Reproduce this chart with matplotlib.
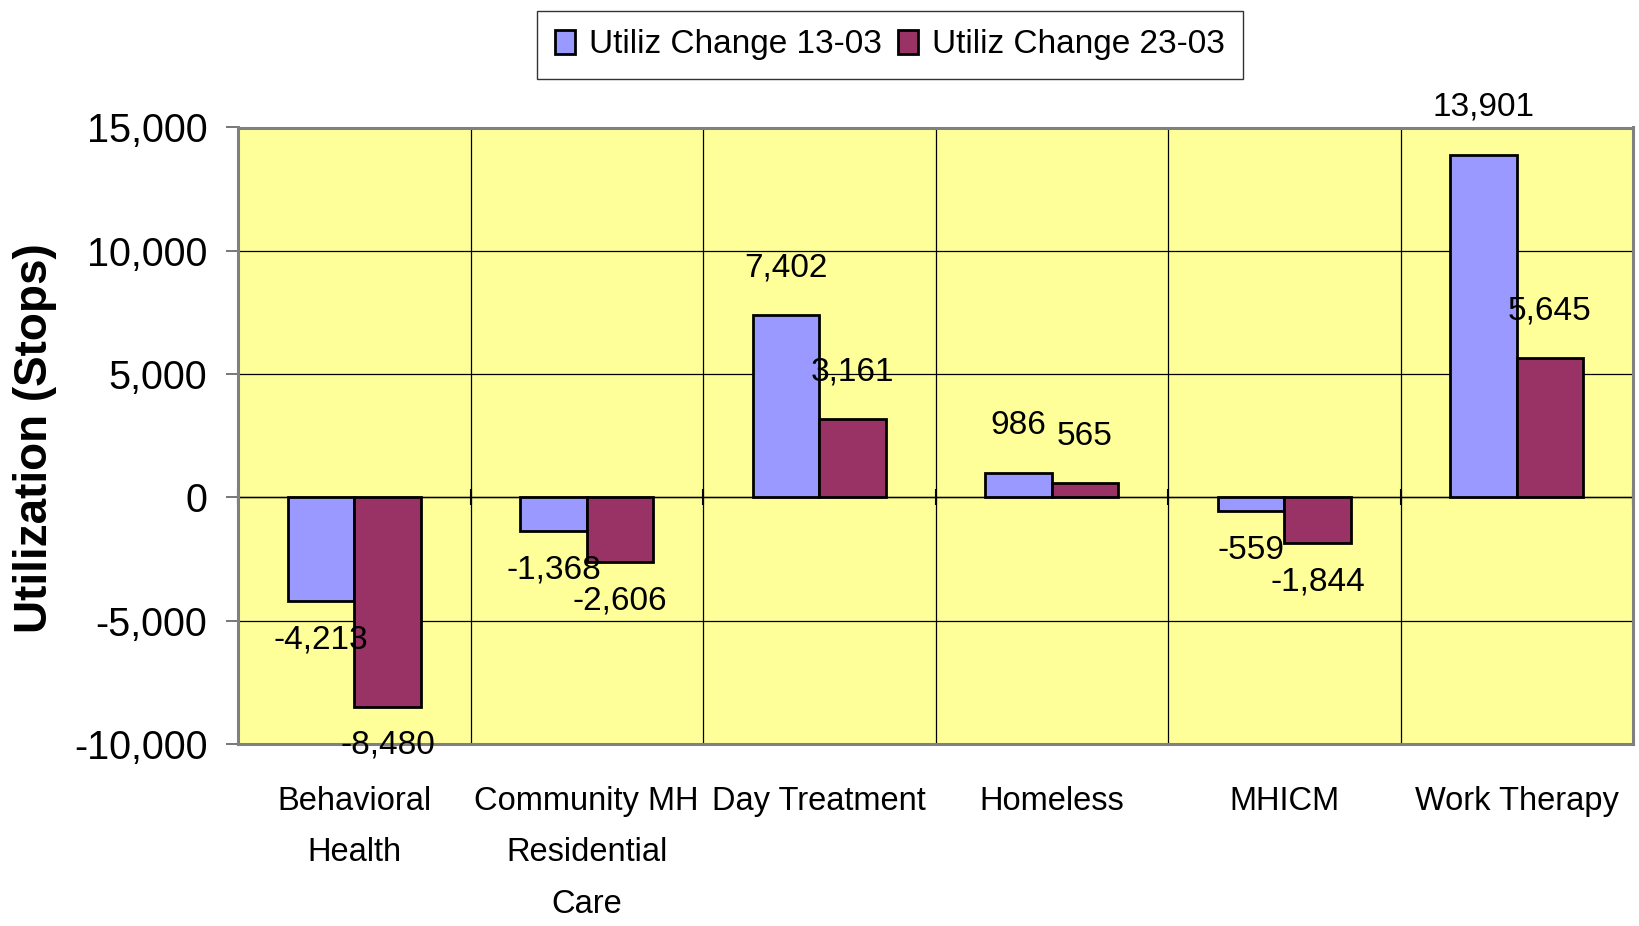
import matplotlib
matplotlib.use("Agg")
import matplotlib.pyplot as plt
import numpy as np
from matplotlib.ticker import FuncFormatter

categories = ["Behavioral\nHealth", "Community MH\nResidential\nCare", "Day Treatment",
              "Homeless", "MHICM", "Work Therapy"]
series_names = ["Utiliz Change 13-03", "Utiliz Change 23-03"]
change_13_03 = [-4213, -1368, 7402, 986, -559, 13901]
change_23_03 = [-8480, -2606, 3161, 565, -1844, 5645]
y_ticks = [-10000, -5000, 0, 5000, 10000, 15000]

FONT = ["Liberation Sans", "DejaVu Sans"]
plt.rcParams["font.family"] = FONT

fig = plt.figure(figsize=(16.39, 9.26), dpi=100)
ax = fig.add_axes([238/1639, 1-744/926, (1633-238)/1639, (744-127.5)/926])
ax.set_facecolor("#FFFF99")

x = np.arange(len(categories))
w = 1/3.5
colors = ["#9999FF", "#993366"]
for i, (vals, c, name) in enumerate(zip([change_13_03, change_23_03], colors, series_names)):
    xs = x + (i - 0.5) * w
    ax.bar(xs, vals, width=w, color=c, edgecolor="black", linewidth=2.0, label=name, zorder=3)
    for xi, v in zip(xs, vals):
        if v >= 0:
            ax.annotate(f"{v:,}", (xi, v), xytext=(0, 34), textcoords="offset points",
                        ha="center", va="center", fontsize=24, zorder=5)
        else:
            ax.annotate(f"{v:,}", (xi, v), xytext=(0, -28), textcoords="offset points",
                        ha="center", va="center", fontsize=24, zorder=5,
                        annotation_clip=False)

ymin, ymax = -10000, 15000
ax.set_ylim(ymin, ymax)
ax.set_xlim(-0.5, len(categories) - 0.5)
ax.set_yticks(y_ticks)
ax.yaxis.set_major_formatter(FuncFormatter(lambda v, p: f"{int(v):,}"))
ax.tick_params(axis="y", direction="out", length=9, width=1.2, color="#606060",
               labelsize=28.5, pad=13)
for yv in y_ticks:
    ax.axhline(yv, color="black", linewidth=0.9, zorder=1)
for b in np.arange(0.5, len(categories) - 0.5, 1):
    ax.axvline(b, color="black", linewidth=0.9, zorder=1)

ax.set_xticks([])
for s in ax.spines.values():
    s.set_color("#808080")
    s.set_linewidth(2.2)

# category axis crossing at zero
loc = (0 - ymin) / (ymax - ymin)
sec = ax.secondary_xaxis(loc)
sec.set_xticks(np.arange(-0.5, len(categories), 1))
sec.set_xticklabels([])
sec.tick_params(direction="inout", length=12, width=1.5, color="black")
sec.spines["bottom"].set_color("black")
sec.spines["bottom"].set_linewidth(1.0)

for xi, lab in zip(x, categories):
    ax.text(xi, -0.068, lab, transform=ax.get_xaxis_transform(), ha="center", va="top",
            fontsize=23.5, linespacing=1.85)

fig.text(35/1639, 1-438/926, "Utilization (Stops)", rotation=90, ha="center", va="center",
         fontsize=33, fontweight="bold")

leg = fig.legend(loc="center", bbox_to_anchor=(890/1639, 1-45/926), ncol=2, fontsize=24,
                 frameon=True, fancybox=False, edgecolor="black", handlelength=0.6,
                 handleheight=0.75, handletextpad=0.4, columnspacing=0.5,
                 borderpad=0.55)
leg.get_frame().set_linewidth(1.0)

fig.savefig("out.png", dpi=100, facecolor="white")
